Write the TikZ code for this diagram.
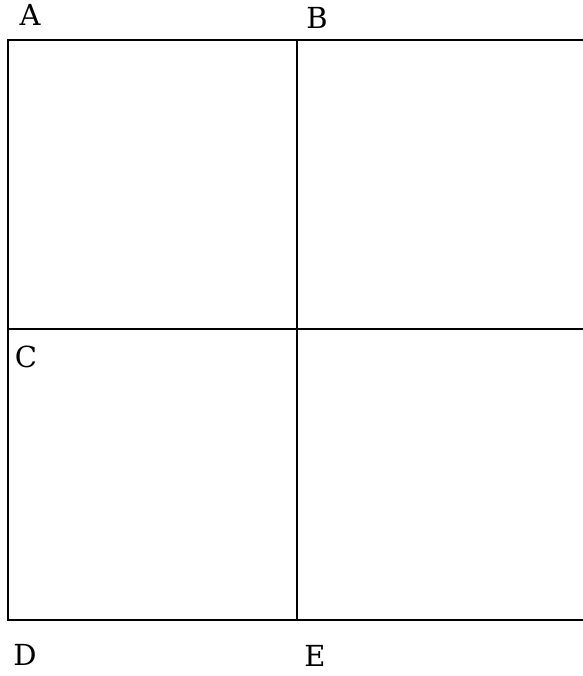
\documentclass[tikz,border=0pt]{standalone}
\usepackage{fontspec}
\setmainfont{DejaVu Serif}
\usepackage{tikz}
\usetikzlibrary{positioning}

\begin{document}
\begin{tikzpicture}[x=1pt,y=-1pt,
    gridline/.style={line width=2.8pt, line cap=rect},
    corner/.style={inner sep=0pt, font=\fontsize{29}{34}\selectfont}]
    \useasboundingbox (0,0) rectangle (582,676);
    % grid corners
    \coordinate (tl) at (8,40);
    \coordinate (tm) at (297,40);
    \coordinate (tr) at (583,40);
    \coordinate (ml) at (8,329);
    \coordinate (mr) at (583,329);
    \coordinate (bl) at (8,620);
    \coordinate (bm) at (297,620);
    \coordinate (br) at (583,620);
    \draw[gridline] (tr) -- (tl) -- (bl) -- (br);
    \draw[gridline] (tm) -- (bm);
    \draw[gridline] (ml) -- (mr);
    % labels
    \node[corner] (lA) at (30,15) {A};
    \node[corner] (lB) at (317,18) {B};
    \node[corner] (lC) at (26,357) {C};
    \node[corner] (lD) at (25,655) {D};
    \node[corner] (lE) at (315,656) {E};
\end{tikzpicture}
\end{document}
